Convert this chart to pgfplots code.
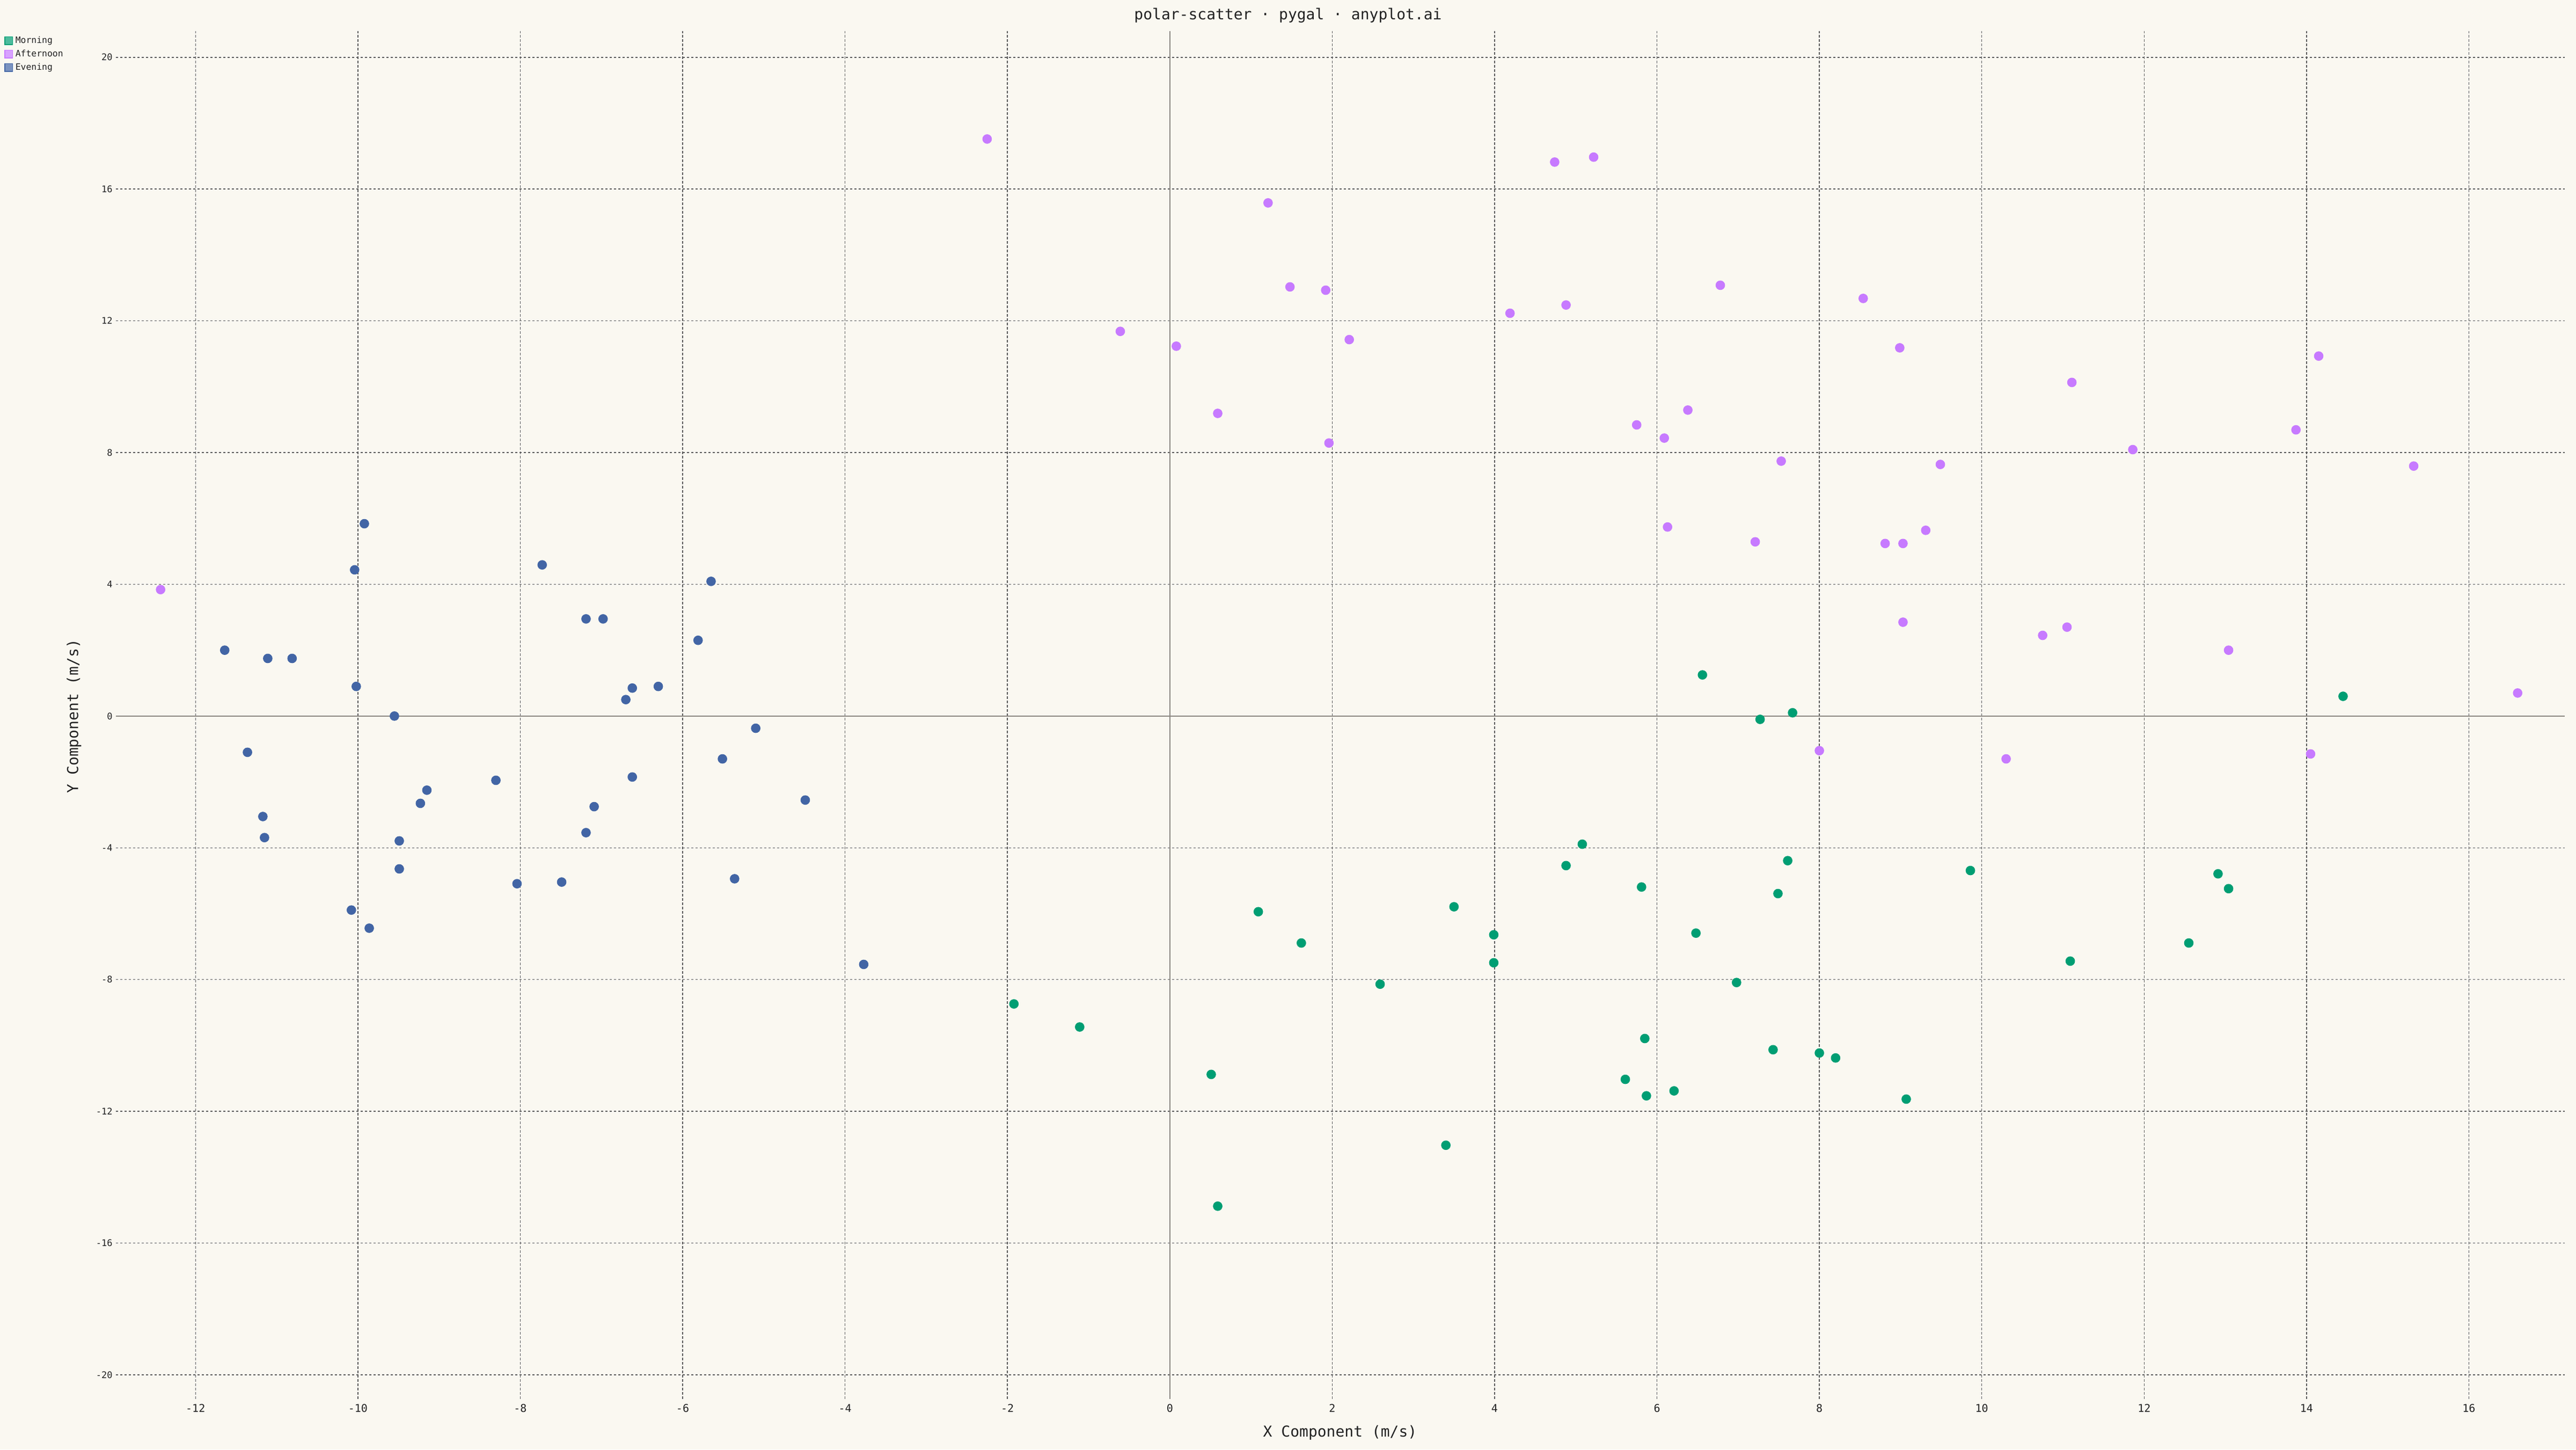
\documentclass[border=0pt]{standalone}
\usepackage{fontspec}
\setmainfont{DejaVu Sans Mono}
\usepackage{pgfplots}
\usepackage{pgfplotstable}
\pgfplotsset{compat=1.18}
\definecolor{bgc}{HTML}{FAF8F1}
\definecolor{mornc}{HTML}{009E73}
\definecolor{aftc}{HTML}{C77AFF}
\definecolor{evec}{HTML}{4265A5}
\definecolor{txtc}{HTML}{222222}
\definecolor{zlc}{HTML}{8A8680}
\definecolor{gridc}{HTML}{585858}

\pgfplotstableread{
x y
6.56 1.25
7.27 -0.10
7.67 0.10
14.45 0.60
5.08 -3.89
4.88 -4.54
5.81 -5.19
7.61 -4.39
7.49 -5.39
9.86 -4.69
12.91 -4.79
13.04 -5.24
12.55 -6.89
11.09 -7.44
3.50 -5.79
3.99 -6.64
3.99 -7.49
6.48 -6.59
6.98 -8.09
1.09 -5.94
1.62 -6.89
2.59 -8.14
-1.92 -8.74
-1.11 -9.44
0.51 -10.88
0.59 -14.88
3.40 -13.03
5.85 -9.79
7.43 -10.13
8.00 -10.23
8.20 -10.38
5.61 -11.03
5.87 -11.53
6.21 -11.38
9.07 -11.63
}\morning

\pgfplotstableread{
x y
-12.43 3.84
-2.25 17.52
-0.61 11.68
0.08 11.23
0.59 9.19
1.21 15.58
1.48 13.03
1.92 12.93
2.21 11.43
1.96 8.29
4.19 12.23
4.74 16.82
4.88 12.48
5.22 16.97
5.75 8.84
6.09 8.44
6.38 9.29
6.13 5.74
6.78 13.08
7.21 5.29
7.53 7.74
8.00 -1.05
8.54 12.68
8.81 5.24
9.03 5.24
8.99 11.18
9.31 5.64
9.49 7.64
9.03 2.85
10.30 -1.30
10.75 2.45
11.05 2.70
11.11 10.13
11.86 8.09
13.04 2.00
13.87 8.69
14.05 -1.15
14.15 10.93
15.32 7.59
16.60 0.70
}\afternoon

\pgfplotstableread{
x y
-9.92 5.84
-10.04 4.44
-11.64 2.00
-11.11 1.75
-10.81 1.75
-10.02 0.90
-9.55 0.00
-11.36 -1.10
-11.17 -3.05
-11.15 -3.69
-9.15 -2.25
-9.23 -2.65
-9.49 -3.79
-9.49 -4.64
-10.08 -5.89
-9.86 -6.44
-8.30 -1.95
-8.04 -5.09
-7.49 -5.04
-7.73 4.59
-7.19 2.95
-6.98 2.95
-7.09 -2.75
-7.19 -3.54
-6.70 0.50
-6.62 0.85
-6.30 0.90
-6.62 -1.85
-5.81 2.30
-5.65 4.09
-5.51 -1.30
-5.36 -4.94
-5.10 -0.37
-4.49 -2.55
-3.77 -7.54
}\evening

\begin{document}
\begin{tikzpicture}[x=1pt,y=1pt]
\fill[bgc] (0,0) rectangle (2400,1350);
\begin{axis}[
  at={(108pt,47.15pt)}, anchor=south west,
  scale only axis, width=2281.5pt, height=1274pt,
  xmin=-12.98, xmax=17.18, ymin=-20.73, ymax=20.80,
  axis line style={draw=none},
  major tick length=0pt,
  xtick={-12,-10,...,16}, ytick={-20,-16,...,20},
  grid=major,
  major x grid style={color=gridc, dash pattern=on 2.5pt off 1.5pt, line width=0.75pt},
  major y grid style={color=gridc, dash pattern=on 2pt off 2pt, line width=0.75pt},
  extra x ticks={0}, extra x tick labels={},
  extra x tick style={grid=major, major x grid style={solid, color=zlc, line width=1pt}},
  extra y ticks={0}, extra y tick labels={},
  extra y tick style={grid=major, major y grid style={solid, color=zlc, line width=1pt}},
  /pgf/number format/assume math mode=true,
  xticklabel style={font=\fontsize{10}{12}\selectfont, text=txtc, inner sep=0pt, anchor=center, yshift=-8.65pt},
  yticklabel style={font=\fontsize{8.5}{10}\selectfont, text=txtc, inner sep=0pt, anchor=east, xshift=-3pt},
  legend style={at={(rel axis cs:-0.0455,0.996)}, anchor=north west, draw=none, fill=none,
    inner sep=0pt, outer sep=0pt, font=\fontsize{8.2}{10}\selectfont, text=txtc, row sep=4.5pt,
    nodes={inner sep=0pt, text height=6pt, text depth=1.5pt},
    /tikz/every even column/.append style={column sep=0pt}},
  legend cell align=left,
]
\addplot[only marks, mark=*, mark size=4.2pt, color=mornc,
  legend image code/.code={\draw[mornc, fill=mornc!70!white, line width=0.8pt] (0pt,-3.6pt) rectangle (7.2pt,3.6pt); \path (9.6pt,0pt);}]
  table[x=x,y=y] {\morning};
\addlegendentry{Morning}
\addplot[only marks, mark=*, mark size=4.2pt, color=aftc,
  legend image code/.code={\draw[aftc, fill=aftc!70!white, line width=0.8pt] (0pt,-3.6pt) rectangle (7.2pt,3.6pt); \path (9.6pt,0pt);}]
  table[x=x,y=y] {\afternoon};
\addlegendentry{Afternoon}
\addplot[only marks, mark=*, mark size=4.2pt, color=evec,
  legend image code/.code={\draw[evec, fill=evec!70!white, line width=0.8pt] (0pt,-3.6pt) rectangle (7.2pt,3.6pt); \path (9.6pt,0pt);}]
  table[x=x,y=y] {\evening};
\addlegendentry{Evening}
\end{axis}
\node[font=\fontsize{14}{16}\selectfont, text=txtc, anchor=base] at (1200,1331.65) {polar-scatter · pygal · anyplot.ai};
\node[font=\fontsize{14}{16}\selectfont, text=txtc, anchor=center] at (1248.5,15.5) {X Component (m/s)};
\node[font=\fontsize{14}{16}\selectfont, text=txtc, anchor=center, rotate=90] at (68.9,683) {Y Component (m/s)};
\pgfresetboundingbox
\path[use as bounding box] (0,0) rectangle (2400,1350);
\end{tikzpicture}
\end{document}
